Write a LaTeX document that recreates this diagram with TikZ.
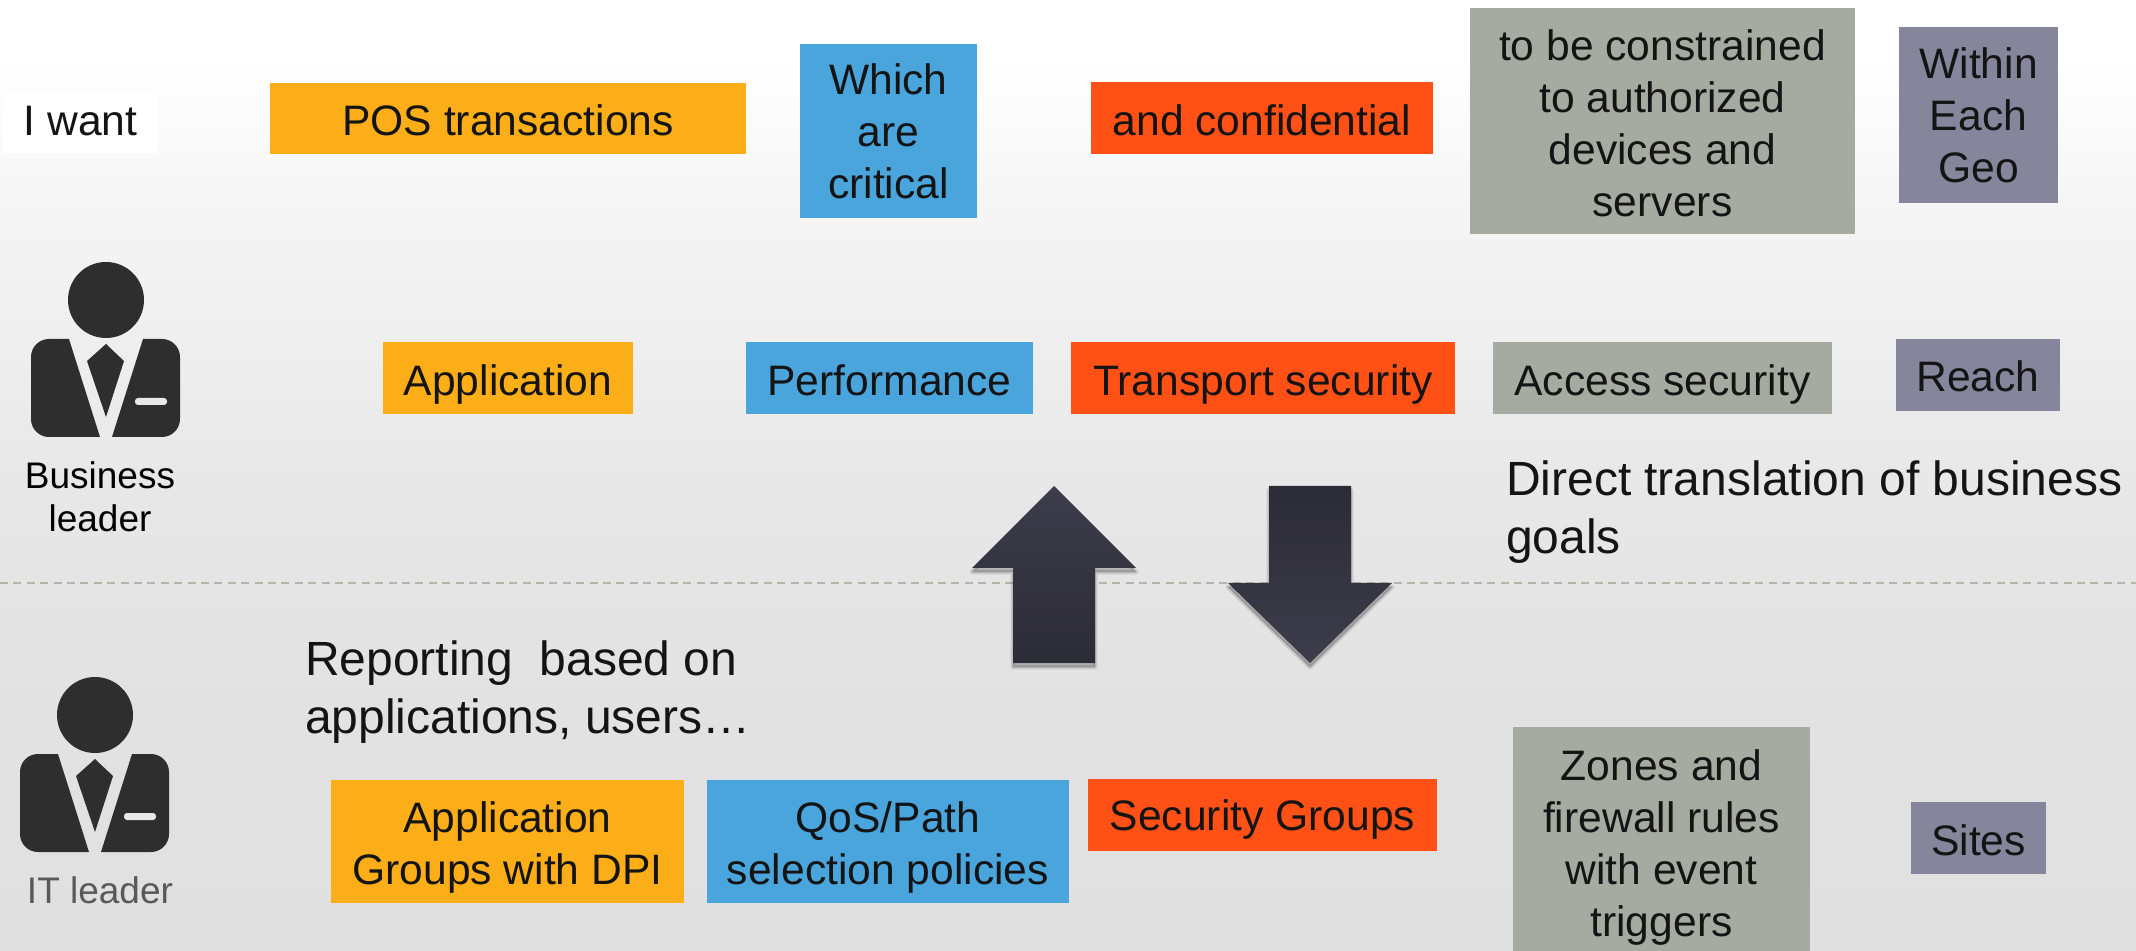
\documentclass[tikz,border=0pt]{standalone}
\usepackage{fontspec}
\setmainfont{Liberation Sans}
\definecolor{cOrange}{HTML}{FBAE17}
\definecolor{cBlue}{HTML}{4AA5DD}
\definecolor{cRed}{HTML}{FF5015}
\definecolor{cGray}{HTML}{A5ABA0}
\definecolor{cPurple}{HTML}{85859C}
\definecolor{cDash}{HTML}{B4B4A8}
\definecolor{cIcon}{HTML}{2E2E2E}
\definecolor{cArrowA}{HTML}{3D3C4B}
\definecolor{cArrowB}{HTML}{2C2C36}
\definecolor{bgA}{HTML}{E0E0E0}
\definecolor{bgB}{HTML}{E2E2E2}
\definecolor{bgC}{HTML}{E8E8E8}
\definecolor{bgD}{HTML}{F4F4F4}
\pgfdeclareverticalshading{bgshade}{100bp}{
  color(0bp)=(bgA);
  color(25bp)=(bgA);
  color(38bp)=(bgB);
  color(50bp)=(bgC);
  color(63bp)=(bgD);
  color(72bp)=(white);
  color(100bp)=(white)}
\tikzset{
  x=0.5pt,y=-0.5pt,
  boxshape/.style={inner sep=0pt,outer sep=0pt},
  bigtext/.style={font=\fontsize{21.3}{26}\selectfont,text=black!92,align=center,inner sep=0pt,outer sep=0pt},
  freetext/.style={font=\fontsize{24}{29.3}\selectfont,text=black!92,align=left,inner sep=0pt,outer sep=0pt,anchor=west},
  smalltext/.style={font=\fontsize{18.5}{21.5}\selectfont,align=center,inner sep=0pt,outer sep=0pt},
  arrowshadow/.style={black,draw=black,opacity=.07,line join=round,yshift=-2pt},
  person/.pic={
    \fill[cIcon] (106,300) circle[radius=19pt];
    \fill[cIcon] (69,339) [sharp corners] -- (100,437) [rounded corners=9pt] -- (31,437) -- (31,339) [sharp corners] -- cycle;
    \fill[cIcon] (143,339) [sharp corners] -- (112,437) [rounded corners=9pt] -- (180,437) -- (180,339) [sharp corners] -- cycle;
    \fill[cIcon] (106,344) -- (124,361) -- (106,417) -- (87,361) -- cycle;
    \fill[white!91!black,rounded corners=1.5pt] (135,398) rectangle (167,405);
  }
}
% name, x1, y1, x2, y2, colour, text centre y, text
\newcommand{\bx}[8]{%
  \node[boxshape,fill=#6,minimum width={(#4-#2)*0.5pt},minimum height={(#5-#3)*0.5pt}] (#1) at ({(#2+#4)/2},{(#3+#5)/2}) {};
  \node[bigtext] (#1-text) at ({(#2+#4)/2},{#7+5}) {\strut #8\strut};}
\newcommand{\uparrowpath}{(1054,486) -- (1136,568) -- (1095,568) -- (1095,663) -- (1013,663) -- (1013,568) -- (972,568) -- cycle}
\newcommand{\downarrowpath}{(1269,486) -- (1351,486) -- (1351,583) -- (1392,583) -- (1310,663) -- (1228,583) -- (1269,583) -- cycle}
\begin{document}
\begin{tikzpicture}
\useasboundingbox (0,0) rectangle (2136,951);
\shade[shading=bgshade] (0,0) rectangle (2136,951);
% dashed divider
\coordinate (dashL) at (0,583);
\coordinate (dashR) at (2136,583);
\draw[cDash,line width=.75pt,dash pattern=on 4pt off 2.7pt] (dashL) -- (dashR);
% row 1
\bx{want}{3}{93}{158}{153}{white}{120}{I want}
\bx{pos}{270}{83}{746}{154}{cOrange}{120}{POS transactions}
\bx{which}{800}{44}{977}{218}{cBlue}{131}{Which\\are\\critical}
\bx{conf}{1091}{82}{1433}{154}{cRed}{120}{and confidential}
\bx{constr}{1470}{8}{1855}{234}{cGray}{123}{to be constrained\\to authorized\\devices and\\servers}
\bx{geo}{1899}{27}{2058}{203}{cPurple}{115}{Within\\Each\\Geo}
% row 2
\bx{app}{383}{342}{633}{414}{cOrange}{380}{Application}
\bx{perf}{746}{342}{1033}{414}{cBlue}{380}{Performance}
\bx{trans}{1071}{342}{1455}{414}{cRed}{380}{Transport security}
\bx{access}{1493}{342}{1832}{414}{cGray}{380}{Access security}
\bx{reach}{1896}{339}{2060}{411}{cPurple}{376}{Reach}
% row 3
\bx{appg}{331}{780}{684}{903}{cOrange}{843}{Application\\Groups with DPI}
\bx{qos}{707}{780}{1069}{903}{cBlue}{843}{QoS/Path\\selection policies}
\bx{sec}{1088}{779}{1437}{851}{cRed}{815}{Security Groups}
\bx{zones}{1513}{727}{1810}{951}{cGray}{843}{Zones and\\firewall rules\\with event\\triggers}
\bx{sites}{1911}{802}{2046}{874}{cPurple}{840}{Sites}
% free text
\node[freetext] (direct) at (1506,512) {Direct translation of business\\goals};
\node[freetext] (report) at (305,692) {Reporting\ \ based on\\applications, users…};
% arrows
\foreach \w in {2.6pt,1.6pt,.6pt}{
  \fill[arrowshadow,line width=\w] \uparrowpath;
  \fill[arrowshadow,line width=\w] \downarrowpath;
}
\shade[top color=cArrowA,bottom color=cArrowB] \uparrowpath;
\shade[top color=cArrowB,bottom color=cArrowA] \downarrowpath;
% people
\pic at (0,0) {person};
\pic at (-11,415) {person};
\node[smalltext,text=black] (biz) at (100,497) {Business\\leader};
\node[smalltext,text=black!65] (it) at (100,890) {IT leader};
\end{tikzpicture}
\end{document}
